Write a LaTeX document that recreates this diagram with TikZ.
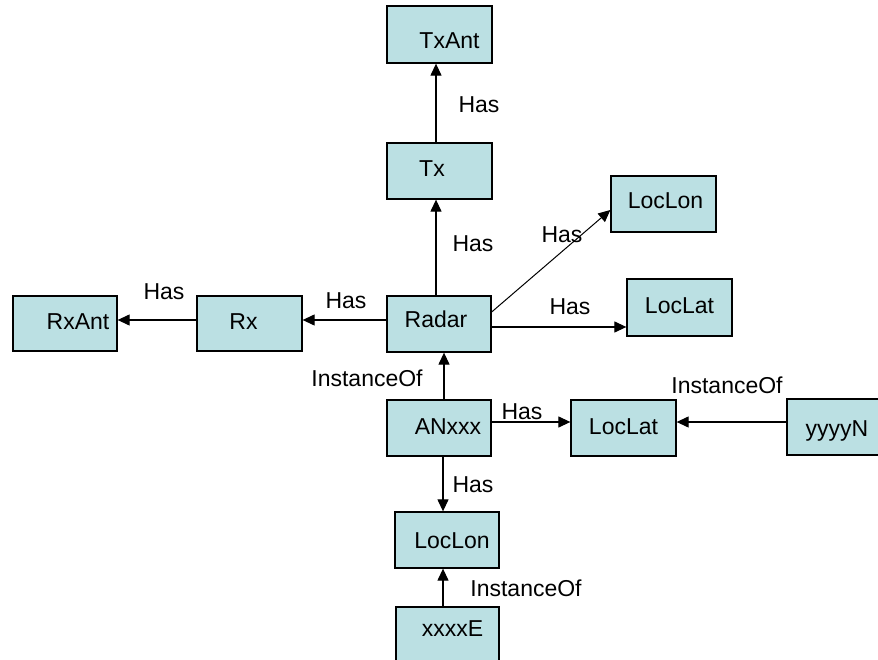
\documentclass[tikz,border=0pt]{standalone}
\usepackage{fontspec}
\setmainfont{Liberation Sans}
\usetikzlibrary{arrows.meta}
\definecolor{boxfill}{RGB}{187,224,227}
\newcommand\bt[3]{\raisebox{-#2pt}{\hspace*{#1pt}#3\hspace*{-#1pt}}}
\tikzset{
  box/.style={draw=black, line width=1.3pt, fill=boxfill, rectangle, inner sep=0pt,
    text height=16.5pt, text depth=0pt, font=\fontsize{23}{27}\selectfont},
  lbl/.style={inner sep=0pt, text height=16.5pt, text depth=0pt, font=\fontsize{23}{27}\selectfont},
  arr/.style={draw=black, line width=1.2pt, -{Triangle[length=12pt,width=11pt]}}
}
\begin{document}
\begin{tikzpicture}[x=1pt,y=-1pt]
\useasboundingbox[fill=white] (0,0) rectangle (878,660);
% boxes
\node[box, minimum width=105pt, minimum height=57pt] (txant) at (439.5,34.5) {\bt{10}{6}{TxAnt}};
\node[box, minimum width=105pt, minimum height=56pt] (tx) at (439.5,171) {\bt{-7.5}{-3}{Tx}};
\node[box, minimum width=105pt, minimum height=56pt] (loclont) at (663.5,204) {\bt{2}{-4}{LocLon}};
\node[box, minimum width=105pt, minimum height=57pt] (loclatr) at (679.5,307.5) {\bt{0}{-2.5}{LocLat}};
\node[box, minimum width=104pt, minimum height=56pt] (radar) at (439,324) {\bt{-3}{-4.5}{Radar}};
\node[box, minimum width=105pt, minimum height=55pt] (rx) at (249.5,323.5) {\bt{-6}{-2.5}{Rx}};
\node[box, minimum width=104pt, minimum height=55pt] (rxant) at (65,323.5) {\bt{13}{-2.5}{RxAnt}};
\node[box, minimum width=104pt, minimum height=56pt] (anxxx) at (439,428) {\bt{9}{-1.3}{ANxxx}};
\node[box, minimum width=105pt, minimum height=56pt] (loclatm) at (623.5,428) {\bt{0}{-2}{LocLat}};
\node[box, minimum width=104pt, minimum height=56pt] (yyyyn) at (839,427) {\bt{-2}{1}{yyyyN}};
\node[box, minimum width=104pt, minimum height=56pt] (loclonb) at (447,540) {\bt{5}{0}{LocLon}};
\node[box, minimum width=103pt, minimum height=56pt] (xxxxe) at (447.5,635) {\bt{5}{-7}{xxxxE}};
% connectors
\draw[arr] ([xshift=-3.5pt]tx.north) -- ([xshift=-3.5pt]txant.south);
\draw[arr] ([xshift=-3pt]radar.north) -- ([xshift=-3.5pt]tx.south);
\draw[arr, line width=1pt] ([yshift=12pt]radar.east) -- ([yshift=-6pt]loclont.west);
\draw[arr] ([yshift=-3pt]radar.east) -- ([yshift=-19.5pt]loclatr.west);
\draw[arr] ([yshift=4pt]radar.west) -- ([yshift=3.5pt]rx.east);
\draw[arr] ([yshift=3.5pt]rx.west) -- ([yshift=3.5pt]rxant.east);
\draw[arr] ([xshift=5pt]anxxx.north) -- ([xshift=5pt]radar.south);
\draw[arr] ([yshift=6pt]anxxx.east) -- ([yshift=6pt]loclatm.west);
\draw[arr] ([yshift=5pt]yyyyn.west) -- ([yshift=6pt]loclatm.east);
\draw[arr] ([xshift=4pt]anxxx.south) -- ([xshift=-4pt]loclonb.north);
\draw[arr] ([xshift=-4.5pt]xxxxe.north) -- ([xshift=-4pt]loclonb.south);
% labels
\node[lbl] (l1) at (479,104) {Has};
\node[lbl] (l2) at (473,243) {Has};
\node[lbl] (l3) at (562,234) {Has};
\node[lbl] (l4) at (570,306.5) {Has};
\node[lbl] (l5) at (346,300) {Has};
\node[lbl] (l6) at (164,291) {Has};
\node[lbl] (l7) at (367,378) {InstanceOf};
\node[lbl] (l8) at (522,411.5) {Has};
\node[lbl] (l9) at (727,385.5) {InstanceOf};
\node[lbl] (l10) at (473,484) {Has};
\node[lbl] (l11) at (526,588) {InstanceOf};
\end{tikzpicture}
\end{document}
